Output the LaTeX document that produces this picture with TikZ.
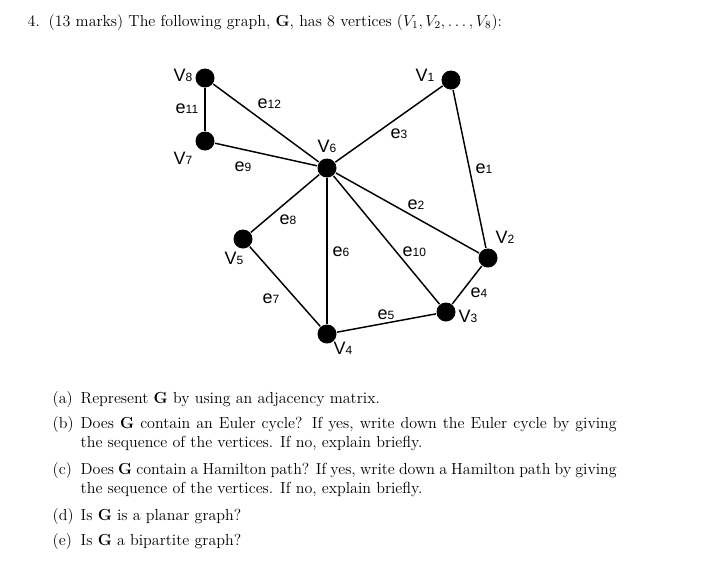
\documentclass[tikz,border=0pt]{standalone}
\usepackage{fontspec}
\newfontfamily\arialfont{Liberation Sans}
\newcommand{\vlab}[2]{#1{\fontsize{9}{10}\selectfont #2}}

\begin{document}
\begin{tikzpicture}[x=0.75pt, y=-0.75pt, line width=1.1pt,
  vtx/.style={circle, fill=black, inner sep=0, minimum size=14.25pt},
  lbl/.style={anchor=base west, inner sep=0, font=\arialfont\fontsize{13.5}{16}\selectfont},
  txt/.style={anchor=base west, inner sep=0, font=\fontsize{12}{14.5}\selectfont}]
  \useasboundingbox (0,0) rectangle (704,562);
  % heading of the question
  \node[txt] (qnum) at (27,26) {4.};
  \node[txt] (qhead) at (48,26) {(13 marks) The following graph, \textbf{G}, has 8 vertices ($V_1, V_2, \ldots, V_8$):};
  % graph: vertices
  \foreach \n/\x/\y in {1/451/80, 2/488/258, 3/446/312, 4/327/334, 5/243/239, 6/327/168, 7/205/141, 8/205/78}
    \node[vtx] (v\n) at (\x,\y) {};
  % graph: edges
  \foreach \a/\b in {1/2, 6/2, 6/1, 2/3, 4/3, 6/4, 5/4, 6/5, 7/6, 6/3, 8/7, 8/6}
    \draw (v\a) -- (v\b);
  % vertex labels
  \foreach \n/\x/\y in {1/415/81, 2/495/243, 3/458/322, 4/333/354, 5/224/264, 6/317/152, 7/173/164, 8/173/81}
    \node[lbl] (lv\n) at (\x,\y) {\vlab{V}{\n}};
  % edge labels
  \foreach \n/\x/\y in {1/475/173, 2/407/209, 3/390/138, 4/470/297, 5/377/319, 6/332/256, 7/262/303, 8/279/224, 9/234/171, 10/402/256, 11/175/113, 12/257/108}
    \node[lbl] (le\n) at (\x,\y) {\vlab{e}{\n}};
  % parts (a)--(e)
  \node[txt] (pa) at (52,403) {(a)};
  \node[txt] (ta) at (80,403) {Represent \textbf{G} by using an adjacency matrix.};
  \node[txt] (pb) at (52,428) {(b)};
  \node[txt] (tb1) at (80,428) {\makebox[402pt][s]{Does \textbf{G} contain an Euler cycle? If yes, write down the Euler cycle by giving}};
  \node[txt] (tb2) at (80,447) {the sequence of the vertices. If no, explain briefly.};
  \node[txt] (pc) at (52,474) {(c)};
  \node[txt] (tc1) at (80,474) {\makebox[402pt][s]{Does \textbf{G} contain a Hamilton path? If yes, write down a Hamilton path by giving}};
  \node[txt] (tc2) at (80,493) {the sequence of the vertices. If no, explain briefly.};
  \node[txt] (pd) at (52,520) {(d)};
  \node[txt] (td) at (80,520) {Is \textbf{G} is a planar graph?};
  \node[txt] (pe) at (52,545) {(e)};
  \node[txt] (te) at (80,545) {Is \textbf{G} a bipartite graph?};
\end{tikzpicture}
\end{document}
